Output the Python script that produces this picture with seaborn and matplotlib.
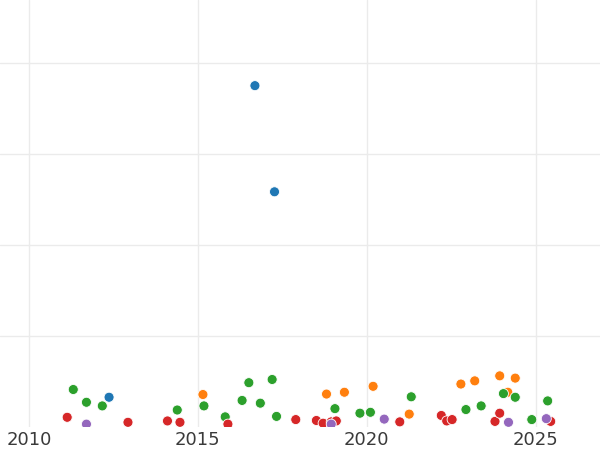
import pandas as pd
import matplotlib
matplotlib.use("Agg")
import matplotlib.pyplot as plt
import seaborn as sns

# values (year, value) per group
blue_year = [2012.37, 2016.69, 2017.27]
blue_val = [6.6, 75.0, 51.7]

orange_year = [2015.15, 2018.81, 2019.34, 2020.19, 2021.26, 2022.79, 2023.20, 2023.94, 2024.40, 2024.18]
orange_val = [7.2, 7.3, 7.7, 9.0, 2.9, 9.5, 10.2, 11.3, 10.8, 7.7]

green_year = [2011.31, 2011.70, 2012.17, 2014.39, 2015.18, 2015.81, 2016.31, 2016.51, 2016.85,
              2017.20, 2017.33, 2019.06, 2019.80, 2020.11, 2021.32, 2022.94, 2023.39, 2024.05,
              2024.40, 2024.89, 2025.36]
green_val = [8.3, 5.5, 4.7, 3.8, 4.7, 2.3, 5.9, 9.8, 5.3,
             10.5, 2.4, 4.1, 3.1, 3.3, 6.7, 3.9, 4.7, 7.4,
             6.6, 1.7, 5.8]

red_year = [2011.13, 2012.93, 2014.10, 2014.47, 2015.89, 2017.90, 2018.51, 2018.71, 2018.95,
            2019.10, 2020.98, 2022.21, 2022.37, 2022.53, 2023.80, 2023.94, 2025.45]
red_val = [2.2, 1.1, 1.4, 1.1, 0.7, 1.7, 1.5, 0.9, 1.2,
           1.4, 1.2, 2.6, 1.4, 1.7, 1.3, 3.1, 1.3]

purple_year = [2011.70, 2018.95, 2020.52, 2024.20, 2025.32]
purple_val = [0.7, 0.7, 1.8, 1.1, 1.9]

groups = ["A", "B", "C", "D", "E"]
colors = ["#1f77b4", "#ff7f0e", "#2ca02c", "#d62728", "#9467bd"]

frames = []
for g, xs, ys in zip(groups,
                     [blue_year, orange_year, green_year, red_year, purple_year],
                     [blue_val, orange_val, green_val, red_val, purple_val]):
    frames.append(pd.DataFrame({"year": xs, "value": ys, "group": g}))
df = pd.concat(frames, ignore_index=True)

sns.set_theme(style="whitegrid")

fig = plt.figure(figsize=(6, 4.5), dpi=100)
ax = fig.add_axes([0, 0.0504, 1, 0.9496])

sns.scatterplot(data=df, x="year", y="value", hue="group", hue_order=groups,
                palette=colors, s=52, linewidth=0.6, legend=False, ax=ax)

ax.set_xlim(2009.14, 2026.91)
ax.set_ylim(0, 93.8)
ax.set_xticks([2010, 2015, 2020, 2025])
ax.set_yticks([20, 40, 60, 80])
ax.tick_params(axis="y", labelleft=False, length=0)
ax.tick_params(axis="x", labelsize=13, labelcolor="#3a3a3a", pad=3, length=0)
ax.grid(True, color="#ebebeb", linewidth=1.0)
ax.set_xlabel("")
ax.set_ylabel("")
for sp in ax.spines.values():
    sp.set_visible(False)

fig.savefig("out.png", dpi=100)
